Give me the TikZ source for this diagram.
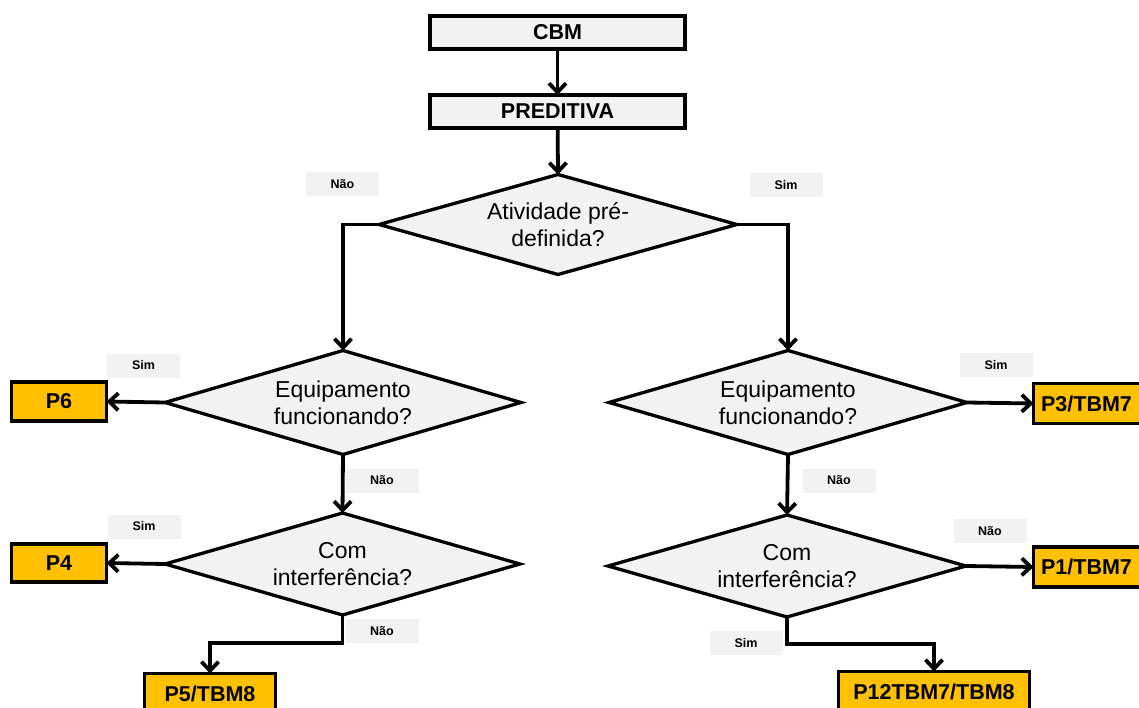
\documentclass[tikz,border=0pt]{standalone}
\usepackage{fontspec}
\setmainfont{Liberation Sans}
\usetikzlibrary{shapes.geometric,arrows.meta}
\definecolor{boxgray}{HTML}{F2F2F2}
\definecolor{resorange}{HTML}{FFC000}
\begin{document}
\begin{tikzpicture}[x=1pt,y=-1pt,
  every node/.style={outer sep=0pt, inner sep=0pt},
  grayblock/.style={draw, line width=3.3pt, fill=boxgray, font=\fontsize{21.5}{25}\selectfont\bfseries},
  resblock/.style={draw, line width=3.4pt, fill=resorange, font=\fontsize{21.5}{25}\selectfont\bfseries},
  decision/.style={diamond, draw, line width=3.3pt, fill=boxgray, aspect=3.5,
    align=center, font=\fontsize{23}{27}\selectfont},
  answer/.style={fill=boxgray, minimum width=73pt, minimum height=24pt,
    font=\fontsize{12.5}{14}\selectfont\bfseries},
  flow/.style={line width=3.8pt, -{Straight Barb[length=9pt,width=17pt]}}
]
\useasboundingbox (0,0) rectangle (1139,708);

% process boxes
\node[grayblock, minimum width=255pt, minimum height=33pt] (cbm) at (557.5,32.5) {CBM};
\node[grayblock, minimum width=255pt, minimum height=33pt] (pred) at (557.5,111.5) {PREDITIVA};

% decisions
\node[decision, minimum width=358pt, minimum height=100pt] (d1) at (558,224.5) {Atividade pré-\\definida?};
\node[decision, minimum width=356pt, minimum height=104pt] (d2l) at (343,402.5) {Equipamento\\funcionando?};
\node[decision, minimum width=355pt, minimum height=102pt] (d3l) at (342.5,564) {Com\\interferência?};
\node[decision, minimum width=358pt, minimum height=104pt] (d2r) at (788,402.5) {Equipamento\\funcionando?};
\node[decision, minimum width=358pt, minimum height=102pt] (d3r) at (787,566) {Com\\interferência?};

% outcomes
\node[resblock, minimum width=95pt, minimum height=39pt] (p6) at (59,401.5) {P6};
\node[resblock, minimum width=95pt, minimum height=38pt] (p4) at (59,563) {P4};
\node[resblock, minimum width=131pt, minimum height=40pt] (p5) at (210,693.5) {P5/TBM8};
\node[resblock, minimum width=120pt, minimum height=40pt] (p3) at (1093.5,403.5) {\hspace*{-14pt}P3/TBM7};
\node[resblock, minimum width=120pt, minimum height=40pt] (p1) at (1093.5,567) {\hspace*{-14pt}P1/TBM7};
\node[resblock, minimum width=191pt, minimum height=40pt] (p12) at (934,691.5) {P12TBM7/TBM8};

% answer tags
\node[answer] (n1) at (342.5,184) {Não};
\node[answer] (s1) at (786,185) {Sim};
\node[answer] (s2l) at (143.5,365.5) {Sim};
\node[answer] (n2l) at (382,480.5) {Não};
\node[answer] (s3l) at (144,526.5) {Sim};
\node[answer] (n3l) at (382,631) {Não};
\node[answer] (s2r) at (996,365) {Sim};
\node[answer] (n2r) at (839,480.5) {Não};
\node[answer] (n3r) at (990,531) {Não};
\node[answer] (s3r) at (746,643) {Sim};

% connectors
\draw[flow] (cbm) -- (pred);
\draw[flow] (pred) -- (d1.north);
\draw[flow] (d1.west) -| (d2l.north);
\draw[flow] (d1.east) -| (d2r.north);
\draw[flow] (d2l.west) -- (p6.east);
\draw[flow] (d2l.south) -- (d3l.north);
\draw[flow] (d3l.west) -- (p4.east);
\draw[flow] (d3l.south) -- ++(0,28) -| (p5.north);
\draw[flow] (d2r.east) -- (p3.west);
\draw[flow] (d2r.south) -- (d3r.north);
\draw[flow] (d3r.east) -- (p1.west);
\draw[flow] (d3r.south) -- ++(0,27) -| (p12.north);
\end{tikzpicture}
\end{document}
